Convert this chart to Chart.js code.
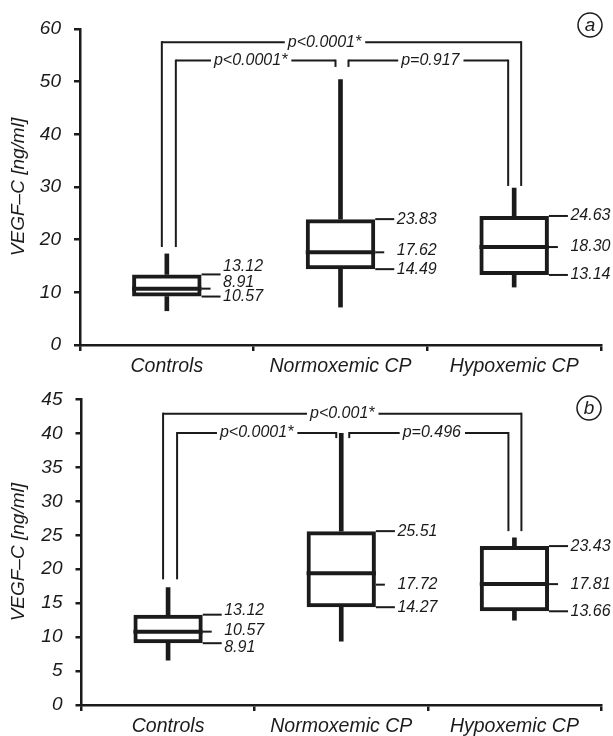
<!DOCTYPE html>
<html><head><meta charset="utf-8">
<script src="https://cdn.jsdelivr.net/npm/chart.js@4.4.1/dist/chart.umd.min.js"></script>
<style>
html,body{margin:0;padding:0;background:#fff;width:613px;height:736px;overflow:hidden;}
canvas{position:absolute;left:0;}
#ca{top:0;}
#cb{top:375px;}
</style></head><body>
<canvas id="ca" width="613" height="385"></canvas>
<canvas id="cb" width="613" height="361"></canvas>
<script>
// ---------- data ----------
const categories = ['Controls', 'Normoxemic CP', 'Hypoxemic CP'];
const axisTitle = 'VEGF–C [ng/ml]';
const yTicksA = [0, 10, 20, 30, 40, 50, 60];
const yTicksB = [0, 5, 10, 15, 20, 25, 30, 35, 40, 45];

// panel a : box plot values
const aMin = [6.5, 7.2, 11.0];
const aQ1  = [9.2, 14.4, 13.3];
const aMed = [10.7, 17.6, 18.6];
const aQ3  = [13.4, 23.9, 24.5];
const aMax = [17.3, 50.4, 29.8];
const aLabelTexts = [['13.12', '8.91', '10.57'], ['23.83', '17.62', '14.49'], ['24.63', '18.30', '13.14']];
const aLabelAt = [[13.4, 10.7, 9.2], [23.9, 17.6, 14.4], [24.5, 18.6, 13.3]];
// panel a : comparison brackets
const aBrFrom  = [0, 0, 1];
const aBrTo    = [2, 1, 2];
const aBrLevel = [57.5, 54.0, 54.0];
const aBrLegL  = [18.6, 18.6, 52.8];
const aBrLegR  = [30.2, 52.8, 30.2];
const aBrText  = ['p<0.0001*', 'p<0.0001*', 'p=0.917'];

// panel b : box plot values
const bMin = [6.6, 9.4, 12.5];
const bQ1  = [9.1, 14.4, 13.8];
const bMed = [10.8, 19.4, 17.8];
const bQ3  = [13.3, 25.6, 23.4];
const bMax = [17.3, 40.0, 24.6];
const bLabelTexts = [['13.12', '10.57', '8.91'], ['25.51', '17.72', '14.27'], ['23.43', '17.81', '13.66']];
const bLabelAt = [[13.3, 10.8, 9.1], [25.6, 17.72, 14.4], [23.4, 17.8, 13.8]];
// panel b : comparison brackets
const bBrFrom  = [0, 0, 1];
const bBrTo    = [2, 1, 2];
const bBrLevel = [42.9, 40.05, 40.05];
const bBrLegL  = [18.5, 18.5, 39.3];
const bBrLegR  = [25.6, 39.3, 25.6];
const bBrText  = ['p<0.001*', 'p<0.0001*', 'p=0.496'];

// ---------- style / layout ----------
const INK = '#1b1b1b';
const FONT = "'Liberation Sans', Arial, sans-serif";
const legOffsets = [[-5, 7], [9, -5], [8, -6]];

function makeChart(id, o) {
  const deco = {
    id: 'deco_' + id,
    afterDatasetsDraw(chart) {
      const ctx = chart.ctx, x = chart.scales.x, y = chart.scales.y;
      const meta = chart.getDatasetMeta(0);
      ctx.save();
      ctx.strokeStyle = INK; ctx.fillStyle = INK;
      ctx.lineCap = 'butt';
      const seg = (x1, y1, x2, y2, w) => { ctx.lineWidth = w; ctx.beginPath(); ctx.moveTo(x1, y1); ctx.lineTo(x2, y2); ctx.stroke(); };
      // medians and value labels
      o.med.forEach((m, i) => {
        const el = meta.data[i];
        const left = el.x - el.width / 2, right = el.x + el.width / 2;
        const ym = y.getPixelForValue(m);
        seg(left, ym, right, ym, 4);
        o.labelAt[i].forEach((v, k) => {
          const py = y.getPixelForValue(v);
          seg(right, py, right + (k === 1 ? 9 : 19), py, 2);
          ctx.font = 'italic 16px ' + FONT;
          ctx.textAlign = 'left'; ctx.textBaseline = 'middle';
          ctx.fillText(o.labelTexts[i][k], right + 21.5, py + o.nudge[i][k]);
        });
      });
      // brackets
      ctx.font = 'italic 16px ' + FONT;
      o.brFrom.forEach((f, j) => {
        const xl = x.getPixelForValue(f) + legOffsets[j][0];
        const xr = x.getPixelForValue(o.brTo[j]) + legOffsets[j][1];
        const yl = y.getPixelForValue(o.brLevel[j]);
        const txt = o.brText[j];
        const w = ctx.measureText(txt).width;
        const tx = (xl + xr) / 2 + o.textShift[j];
        seg(xl, yl, tx - w / 2 - 3, yl, 2);
        seg(tx + w / 2 + 4, yl, xr, yl, 2);
        seg(xl, yl - 1, xl, y.getPixelForValue(o.brLegL[j]), 2);
        seg(xr, yl - 1, xr, y.getPixelForValue(o.brLegR[j]), 2);
        ctx.textAlign = 'center'; ctx.textBaseline = 'middle';
        ctx.fillText(txt, tx, yl);
      });
      // panel letter
      ctx.lineWidth = 1.5;
      ctx.beginPath(); ctx.arc(o.letterPos[0], o.letterPos[1], 12, 0, Math.PI * 2); ctx.stroke();
      ctx.font = 'italic 19px ' + FONT;
      ctx.textAlign = 'center'; ctx.textBaseline = 'middle';
      ctx.fillText(o.letter, o.letterPos[0], o.letterPos[1] + 1);
      ctx.restore();
    }
  };
  const boxes = o.q1.map((v, i) => [v, o.q3[i]]);
  const lower = o.min.map((v, i) => [v, o.q1[i]]);
  const upper = o.q3.map((v, i) => [v, o.max[i]]);
  return new Chart(document.getElementById(id), {
    type: 'bar',
    data: {
      labels: categories,
      datasets: [
        { data: boxes, backgroundColor: 'rgba(0,0,0,0)', borderColor: INK, borderWidth: 4, borderSkipped: false,
          barPercentage: 0.4, categoryPercentage: 1, grouped: false },
        { data: lower, backgroundColor: INK, borderWidth: 0, barThickness: 4, grouped: false },
        { data: upper, backgroundColor: INK, borderWidth: 0, barThickness: 4, grouped: false }
      ]
    },
    options: {
      responsive: false, animation: false, devicePixelRatio: 1,
      layout: { padding: { top: o.padTop, right: 12, left: 0, bottom: 0 } },
      plugins: { legend: { display: false }, tooltip: { enabled: false } },
      scales: {
        x: {
          offset: true,
          grid: { offset: true, drawOnChartArea: false, drawTicks: true, tickLength: 6, color: INK, lineWidth: 2.5 },
          border: { display: true, color: INK, width: 2.5 },
          ticks: { color: INK, font: { family: FONT, size: 19.5, style: 'italic' }, padding: 4, maxRotation: 0, autoSkip: false },
          afterFit: s => { s.height = o.xH; }
        },
        y: {
          min: 0, max: o.yMax,
          afterBuildTicks: s => { s.ticks = o.yTicks.map(v => ({ value: v })); },
          grid: { drawOnChartArea: false, drawTicks: true, tickLength: 6, color: INK, lineWidth: 2.5 },
          border: { display: true, color: INK, width: 2.5 },
          ticks: { color: INK, font: { family: FONT, size: 19, style: 'italic' }, padding: 13 },
          title: { display: true, text: axisTitle, color: INK, font: { family: FONT, size: 19, style: 'italic' }, padding: { top: 7, bottom: 0 } },
          afterFit: s => { s.width = o.yW; }
        }
      }
    },
    plugins: [deco]
  });
}

makeChart('ca', {
  min: aMin, q1: aQ1, med: aMed, q3: aQ3, max: aMax,
  labelTexts: aLabelTexts, labelAt: aLabelAt, nudge: [[-8, -6, 0], [0, -2, 0], [0, 0, 0]],
  brFrom: aBrFrom, brTo: aBrTo, brLevel: aBrLevel, brLegL: aBrLegL, brLegR: aBrLegR, brText: aBrText,
  textShift: [-17, -5, 2],
  yTicks: yTicksA, yMax: 60, padTop: 29, xH: 40, yW: 80,
  letter: 'a', letterPos: [590, 25]
});
makeChart('cb', {
  min: bMin, q1: bQ1, med: bMed, q3: bQ3, max: bMax,
  labelTexts: bLabelTexts, labelAt: bLabelAt, nudge: [[-4, -1, 4], [0, 0, 0], [0, 0, 0]],
  brFrom: bBrFrom, brTo: bBrTo, brLevel: bBrLevel, brLegL: bBrLegL, brLegR: bBrLegR, brText: bBrText,
  textShift: [0, 0, 3],
  yTicks: yTicksB, yMax: 45, padTop: 13, xH: 31, yW: 81.5,
  letter: 'b', letterPos: [589, 33]
});
</script>
</body></html>
